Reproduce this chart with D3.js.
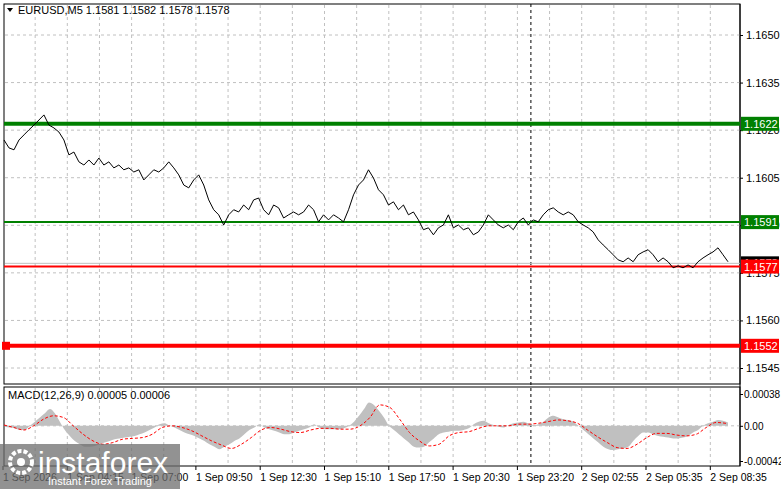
<!DOCTYPE html>
<html>
<head>
<meta charset="utf-8">
<script src="https://cdn.jsdelivr.net/npm/d3@7"></script>
<style>
body { margin: 0; background: #fff; }
text { font-family: "Liberation Sans", Arial, sans-serif; font-size: 11px; }
</style>
</head>
<body>
<script>
// price series (M5 closes)
const prices = [1.16169,1.16144,1.16138,1.16169,1.16185,1.16201,1.16216,1.16232,1.16248,1.16216,1.16207,1.16194,1.16169,1.16122,1.16131,1.16100,1.16090,1.16106,1.16090,1.16112,1.16090,1.16100,1.16081,1.16090,1.16075,1.16081,1.16068,1.16075,1.16043,1.16059,1.16075,1.16068,1.16081,1.16100,1.16081,1.16059,1.16027,1.16018,1.16043,1.16059,1.16027,1.15980,1.15949,1.15933,1.15901,1.15933,1.15949,1.15942,1.15964,1.15949,1.15980,1.15986,1.15949,1.15933,1.15964,1.15955,1.15923,1.15933,1.15942,1.15933,1.15942,1.15964,1.15949,1.15911,1.15933,1.15917,1.15933,1.15923,1.15911,1.15949,1.15996,1.16027,1.16043,1.16075,1.16049,1.16012,1.15996,1.15964,1.15974,1.15949,1.15964,1.15933,1.15942,1.15917,1.15886,1.15892,1.15870,1.15892,1.15901,1.15933,1.15892,1.15901,1.15886,1.15892,1.15870,1.15879,1.15901,1.15933,1.15917,1.15901,1.15892,1.15901,1.15886,1.15911,1.15923,1.15901,1.15917,1.15911,1.15933,1.15949,1.15955,1.15942,1.15933,1.15942,1.15933,1.15911,1.15901,1.15892,1.15879,1.15854,1.15838,1.15823,1.15807,1.15791,1.15785,1.15797,1.15785,1.15807,1.15816,1.15823,1.15807,1.15785,1.15797,1.15785,1.15766,1.15772,1.15766,1.15775,1.15766,1.15785,1.15797,1.15807,1.15816,1.15829,1.15807,1.15785];

// MACD histogram and signal, in units of 1e-5
const macdHist = [-1,-2,-3,-5,-5,0,5,10,15,20,15,5,-5,-12,-18,-22,-25,-25,-24,-22,-20,-18,-16,-15,-14,-13,-12,-10,-8,-5,-2,2,3,0,-2,-5,-8,-10,-12,-15,-18,-22,-25,-28,-25,-22,-18,-15,-10,-5,-2,2,-2,-4,-6,-8,-10,-10,-8,-6,-4,-2,2,-2,-4,-4,-4,-4,-3,0,5,12,20,28,25,18,10,0,-5,-10,-15,-20,-25,-26,-25,-20,-15,-10,-8,-7,-6,-6,-5,-3,2,5,6,3,1,-1,-2,1,3,4,5,3,1,2,5,10,12,10,8,7,5,0,-5,-10,-15,-20,-25,-28,-29,-28,-27,-25,-18,-12,-8,-8,-10,-12,-13,-14,-15,-15,-14,-12,-8,-5,0,3,5,7,6,4];
const macdSignal = [1,-2,-5,0,8,12,10,0,-10,-18,-22,-20,-16,-15,-14,-10,-2,0,-2,-6,-12,-18,-23,-27,-22,-14,-5,-2,-4,-7,-8,-5,-3,-3,-4,-4,0,10,25,22,8,-8,-18,-24,-22,-12,-8,-7,-3,0,0,0,2,2,3,5,7,6,3,-5,-13,-20,-26,-27,-22,-14,-9,-9,-11,-12,-10,-2,4,3];

const priceTicks = [1.1650,1.1635,1.1620,1.1605,1.1590,1.1575,1.1560,1.1545];
const macdTicks = [0.00038, 0.0, -0.00042];
const macdTickLabels = ["0.00038", "0.00", "-0.00042"];
const timeLabels = ["1 Sep 2026","1 Sep 04:15","1 Sep 07:00","1 Sep 09:50","1 Sep 12:30","1 Sep 15:10","1 Sep 17:50","1 Sep 20:30","1 Sep 23:20","2 Sep 02:55","2 Sep 05:35","2 Sep 08:35"];
const levels = [
	{ value: 1.1622, label: "1.1622", color: "#008000", width: 4 },
	{ value: 1.1591, label: "1.1591", color: "#008000", width: 2 },
	{ value: 1.1577, label: "1.1577", color: "#ff0000", width: 2 },
	{ value: 1.1552, label: "1.1552", color: "#ff0000", width: 4 }
];
const lastPrice = 1.1578;
const cursorIndex = 8.21; // dashed vertical cursor (in label-step units)

const w = 781, h = 489;
const left = 4, right = 740;
const mainTop = 4, mainBottom = 384;
const macdTop = 387, macdBottom = 466;

const svg = d3.select("body").append("svg").attr("width", w).attr("height", h);

// frames
svg.append("rect").attr("x", left).attr("y", mainTop).attr("width", right - left).attr("height", mainBottom - mainTop)
	.attr("fill", "#fff").attr("stroke", "#000");
svg.append("rect").attr("x", left).attr("y", macdTop).attr("width", right - left).attr("height", macdBottom - macdTop)
	.attr("fill", "#fff").attr("stroke", "#000");

// scales
const y = d3.scaleLinear().domain([1.1545, 1.1650]).range([368, 35]);
const xPrice = d3.scaleLinear().domain([0, prices.length - 1]).range([4, 728]);
const yMacd = d3.scaleLinear().domain([-0.00042, 0.00038]).range([461, 394]);
const xHist = d3.scaleLinear().domain([0, macdHist.length - 1]).range([5, 728]);
const xSig = d3.scaleLinear().domain([0, macdSignal.length - 1]).range([4, 726]);
const xGrid = d3.scaleLinear().domain([0, 1]).range([3, 67.3]); // one label step

// vertical grid (every half label step)
const gridX = d3.range(1, 23).map((i) => xGrid(i / 2));
[[mainTop, mainBottom], [macdTop, macdBottom]].forEach(([t, b]) => {
	svg.append("g").selectAll("line").data(gridX).enter().append("line")
		.attr("x1", (d) => d).attr("x2", (d) => d).attr("y1", t + 1).attr("y2", b - 1)
		.attr("stroke", "#c0c0c0").attr("stroke-dasharray", "3,3");
});

// horizontal grid + price axis
svg.append("g").selectAll("line").data(priceTicks).enter().append("line")
	.attr("x1", left + 1).attr("x2", right).attr("y1", (d) => y(d)).attr("y2", (d) => y(d))
	.attr("stroke", "#c0c0c0").attr("stroke-dasharray", "3,3");
const yAxis = d3.axisRight(y).tickValues(priceTicks).tickFormat(d3.format(".4f")).tickSize(3);
svg.append("g").attr("transform", `translate(${right},0)`).call(yAxis)
	.call((g) => g.select(".domain").remove())
	.call((g) => g.selectAll("text").attr("x", 6).style("font-size", "11px").attr("fill", "#000"));

// macd zero grid + axis
svg.append("line").attr("x1", left + 1).attr("x2", right).attr("y1", yMacd(0)).attr("y2", yMacd(0))
	.attr("stroke", "#c0c0c0").attr("stroke-dasharray", "3,3");
const mAxis = d3.axisRight(yMacd).tickValues(macdTicks).tickFormat((d, i) => macdTickLabels[i]).tickSize(3);
svg.append("g").attr("transform", `translate(${right},0)`).call(mAxis)
	.call((g) => g.select(".domain").remove())
	.call((g) => g.selectAll("text").attr("x", 4).style("font-size", "10px").attr("fill", "#000"));

// right axis line
svg.append("line").attr("x1", right).attr("x2", right).attr("y1", mainTop).attr("y2", macdBottom).attr("stroke", "#000");

// cursor dashed line
svg.append("line").attr("x1", xGrid(cursorIndex)).attr("x2", xGrid(cursorIndex)).attr("y1", mainTop).attr("y2", macdBottom)
	.attr("stroke", "#000").attr("stroke-dasharray", "3,3");

// last price line
svg.append("line").attr("x1", left + 1).attr("x2", right).attr("y1", y(lastPrice)).attr("y2", y(lastPrice))
	.attr("stroke", "#c0c0c0");
svg.append("rect").attr("x", right + 1).attr("y", y(lastPrice) - 7).attr("width", 38).attr("height", 13).attr("fill", "#000");
svg.append("text").attr("x", right + 4).attr("y", y(lastPrice) + 4).attr("fill", "#fff").text(d3.format(".4f")(lastPrice));

// levels
levels.forEach((l) => {
	svg.append("line").attr("x1", left).attr("x2", right).attr("y1", y(l.value)).attr("y2", y(l.value))
		.attr("stroke", l.color).attr("stroke-width", l.width);
	svg.append("rect").attr("x", right + 1).attr("y", y(l.value) - 7).attr("width", 38).attr("height", 14).attr("fill", l.color);
	svg.append("text").attr("x", right + 4).attr("y", y(l.value) + 4).attr("fill", "#fff").text(l.label);
});
svg.append("rect").attr("x", left - 2).attr("y", y(1.1552) - 4).attr("width", 8).attr("height", 8).attr("fill", "#ff0000");

// price line
svg.append("path").datum(prices)
	.attr("d", d3.line().x((d, i) => xPrice(i)).y((d) => y(d)))
	.attr("fill", "none").attr("stroke", "#000").attr("stroke-width", 1);

// MACD histogram
svg.append("path").datum(macdHist)
	.attr("d", d3.area().x((d, i) => xHist(i)).y0(yMacd(0)).y1((d) => yMacd(d * 1e-5)).curve(d3.curveMonotoneX))
	.attr("fill", "#c0c0c0");
svg.append("path").datum(macdSignal)
	.attr("d", d3.line().x((d, i) => xSig(i)).y((d) => yMacd(d * 1e-5)).curve(d3.curveMonotoneX))
	.attr("fill", "none").attr("stroke", "#ff0000").attr("stroke-width", 1).attr("stroke-dasharray", "3,2");

// headers
svg.append("path").attr("d", "M7,8 L13,8 L10,12 Z").attr("fill", "#000");
svg.append("text").attr("x", 18).attr("y", 14).text("EURUSD,M5  1.1581 1.1582 1.1578 1.1578");
svg.append("text").attr("x", 8).attr("y", 399).text("MACD(12,26,9) 0.00005 0.00006");

// time labels
svg.append("g").selectAll("text").data(timeLabels).enter().append("text")
	.attr("x", (d, i) => xGrid(i)).attr("y", 481).style("font-size", "10.5px").text((d) => d);
svg.append("g").selectAll("line").data(timeLabels).enter().append("line")
	.attr("x1", (d, i) => xGrid(i)).attr("x2", (d, i) => xGrid(i)).attr("y1", macdBottom).attr("y2", macdBottom + 4)
	.attr("stroke", "#000");

// watermark
const wm = svg.append("g");
wm.append("rect").attr("x", 0).attr("y", 444).attr("width", 180).attr("height", 45).attr("fill", "#6e6e6e").attr("opacity", 0.75);
wm.append("circle").attr("cx", 21).attr("cy", 462).attr("r", 11).attr("fill", "none").attr("stroke", "#fff").attr("stroke-width", 4).attr("stroke-dasharray", "4,2");
wm.append("circle").attr("cx", 21).attr("cy", 462).attr("r", 4).attr("fill", "#fff");
wm.append("text").attr("x", 38).attr("y", 473).attr("fill", "#fff").style("font-size", "30px").text("instaforex");
wm.append("text").attr("x", 48).attr("y", 485).attr("fill", "#fff").style("font-size", "11px").text("Instant Forex Trading");
</script>
</body>
</html>
